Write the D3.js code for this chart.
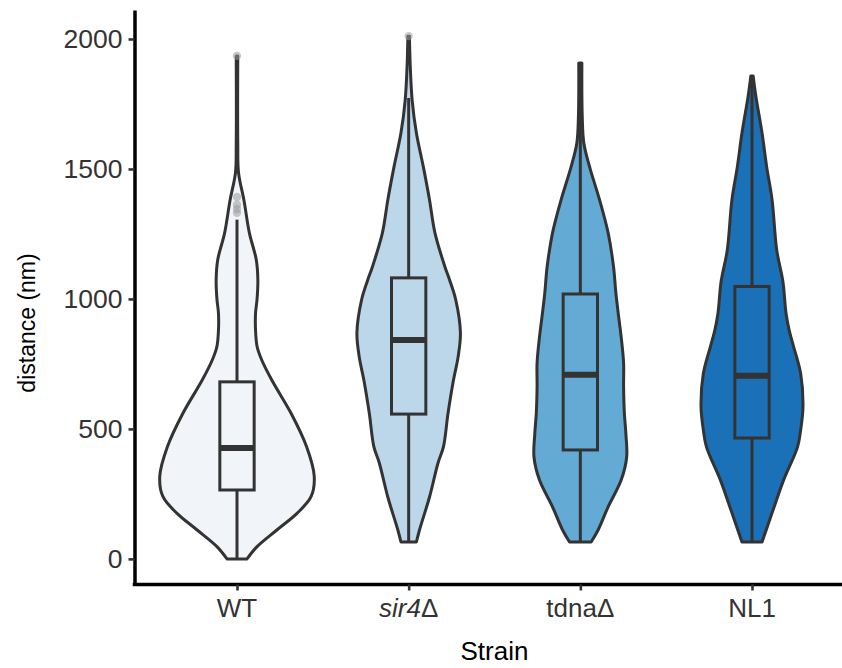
<!DOCTYPE html>
<html>
<head>
<meta charset="utf-8">
<script src="https://cdn.jsdelivr.net/npm/d3@7"></script>
<style>
  html, body { margin: 0; padding: 0; background: #fff; }
  svg text { font-family: "Liberation Sans", Arial, Helvetica, sans-serif; }
</style>
</head>
<body>
<svg id="chart" width="842" height="668"></svg>
<script>
// Strains shown along the x axis
const strains = ["WT", "sir4Δ", "tdnaΔ", "NL1"];
const fills = ["#F1F4F9", "#BDD7EA", "#63ABD4", "#1A71B7"];

// Violin outlines: [distance (nm), relative density]
const densityWT = [[0,0.13],[47,0.26],[112,0.52],[176,0.78],[240,0.96],[317,1.0],[432,0.9],[560,0.7],[688,0.45],[765,0.32],[817,0.26],[880,0.24],[945,0.24],[1000,0.26],[1073,0.27],[1150,0.25],[1254,0.16],[1380,0.09],[1485,0.02],[1600,0.01],[1935,0.01]];
const densitySir4 = [[65,0.1],[111,0.14],[238,0.27],[369,0.38],[431,0.45],[561,0.51],[688,0.58],[777,0.64],[869,0.67],[996,0.61],[1073,0.53],[1123,0.47],[1254,0.34],[1381,0.27],[1508,0.19],[1638,0.1],[1765,0.045],[1900,0.02],[2011,0.01]];
const densityTdna = [[65,0.14],[111,0.23],[200,0.36],[304,0.53],[392,0.6],[480,0.59],[561,0.57],[660,0.56],[754,0.56],[850,0.53],[946,0.49],[1023,0.46],[1123,0.43],[1254,0.36],[1380,0.25],[1508,0.12],[1600,0.045],[1700,0.025],[1908,0.02]];
const densityNL1 = [[65,0.13],[177,0.26],[304,0.41],[431,0.59],[496,0.63],[585,0.66],[713,0.63],[815,0.54],[881,0.48],[946,0.44],[1067,0.4],[1188,0.32],[1381,0.26],[1508,0.19],[1638,0.13],[1780,0.05],[1858,0.015]];

// Box summaries: [lower whisker, Q1, median, Q3, upper whisker]
const boxWT = [0, 265, 427, 681, 1305];
const boxSir4 = [65, 557, 842, 1081, 1773];
const boxTdna = [65, 419, 708, 1019, 1908];
const boxNL1 = [65, 465, 704, 1048, 1858];

// Points beyond the whiskers
const outliersWT = [1331, 1346, 1362, 1392, 1935];
const outliersSir4 = [2011];
const outliersTdna = [];
const outliersNL1 = [];

const yTicks = [0, 500, 1000, 1500, 2000];

const groups = strains.map((s, i) => ({
  strain: s,
  fill: fills[i],
  density: [densityWT, densitySir4, densityTdna, densityNL1][i],
  box: [boxWT, boxSir4, boxTdna, boxNL1][i],
  outliers: [outliersWT, outliersSir4, outliersTdna, outliersNL1][i]
}));

const svg = d3.select("#chart");
const ink = "#333333";

const x = d3.scalePoint().domain(strains).range([134, 855]).padding(0.6);
const y = d3.scaleLinear().domain([-100.5, 2111.5]).range([585, 10]);
const halfMax = x.step() * 0.45;
const boxHalf = x.step() * 0.1;

const plot = svg.append("g");

groups.forEach(g => {
  const cx = x(g.strain);
  const gg = plot.append("g");

  // violin
  const area = d3.area()
    .y(d => y(d[0]))
    .x0(d => cx - d[1] * halfMax)
    .x1(d => cx + d[1] * halfMax)
    .curve(d3.curveCatmullRom);
  gg.append("path")
    .datum(g.density)
    .attr("d", area)
    .attr("fill", g.fill)
    .attr("stroke", ink)
    .attr("stroke-width", 3)
    .attr("stroke-linejoin", "round");

  const [lo, q1, med, q3, hi] = g.box;
  // whiskers
  gg.append("line")
    .attr("x1", cx).attr("x2", cx)
    .attr("y1", y(lo)).attr("y2", y(q1))
    .attr("stroke", ink).attr("stroke-width", 3);
  gg.append("line")
    .attr("x1", cx).attr("x2", cx)
    .attr("y1", y(q3)).attr("y2", y(hi))
    .attr("stroke", ink).attr("stroke-width", 3);
  // box
  gg.append("rect")
    .attr("x", cx - boxHalf)
    .attr("width", boxHalf * 2)
    .attr("y", y(q3))
    .attr("height", y(q1) - y(q3))
    .attr("fill", g.fill)
    .attr("stroke", ink)
    .attr("stroke-width", 3);
  // median
  gg.append("line")
    .attr("x1", cx - boxHalf).attr("x2", cx + boxHalf)
    .attr("y1", y(med)).attr("y2", y(med))
    .attr("stroke", ink).attr("stroke-width", 6);
  // outliers
  gg.selectAll("circle")
    .data(g.outliers)
    .join("circle")
    .attr("cx", cx)
    .attr("cy", d => y(d))
    .attr("r", 4.2)
    .attr("fill", "#9a9a9a")
    .attr("fill-opacity", 0.55);
});

// y axis
const yAxis = svg.append("g")
  .attr("transform", "translate(134.5,0)")
  .call(d3.axisLeft(y).tickValues(yTicks).tickSize(6).tickSizeOuter(0).tickPadding(6).tickFormat(d3.format("d")));
yAxis.select(".domain").attr("stroke", "#000").attr("stroke-width", 3.5);
yAxis.selectAll(".tick line").attr("stroke", ink).attr("stroke-width", 2.6);
yAxis.selectAll(".tick text")
  .attr("fill", ink)
  .style("font-size", "26.5px")
  .style("font-family", '"Liberation Sans", Arial, sans-serif');

// x axis
const xAxis = svg.append("g")
  .attr("transform", "translate(0,584.5)")
  .call(d3.axisBottom(x).tickSize(6).tickSizeOuter(0).tickPadding(5));
xAxis.select(".domain").attr("stroke", "#000").attr("stroke-width", 3.5)
  .attr("d", "M132.75,0H855");
xAxis.selectAll(".tick line").attr("stroke", ink).attr("stroke-width", 2.6);
xAxis.selectAll(".tick text").remove();

// category labels, with the gene name italic
const labelParts = {
  "WT": [["WT", false]],
  "sir4Δ": [["sir4", true], ["Δ", false]],
  "tdnaΔ": [["tdnaΔ", false]],
  "NL1": [["NL1", false]]
};
strains.forEach(s => {
  const t = svg.append("text")
    .attr("x", x(s))
    .attr("y", 617)
    .attr("text-anchor", "middle")
    .attr("fill", ink)
    .style("font-size", "26px");
  labelParts[s].forEach(([txt, it]) => {
    t.append("tspan").text(txt).style("font-style", it ? "italic" : "normal");
  });
});

// axis titles
svg.append("text")
  .attr("x", 494.5)
  .attr("y", 660)
  .attr("text-anchor", "middle")
  .attr("fill", "#000")
  .style("font-size", "26px")
  .text("Strain");

svg.append("text")
  .attr("transform", "translate(35,323) rotate(-90)")
  .attr("text-anchor", "middle")
  .attr("fill", "#000")
  .style("font-size", "23px")
  .text("distance (nm)");
</script>
</body>
</html>
